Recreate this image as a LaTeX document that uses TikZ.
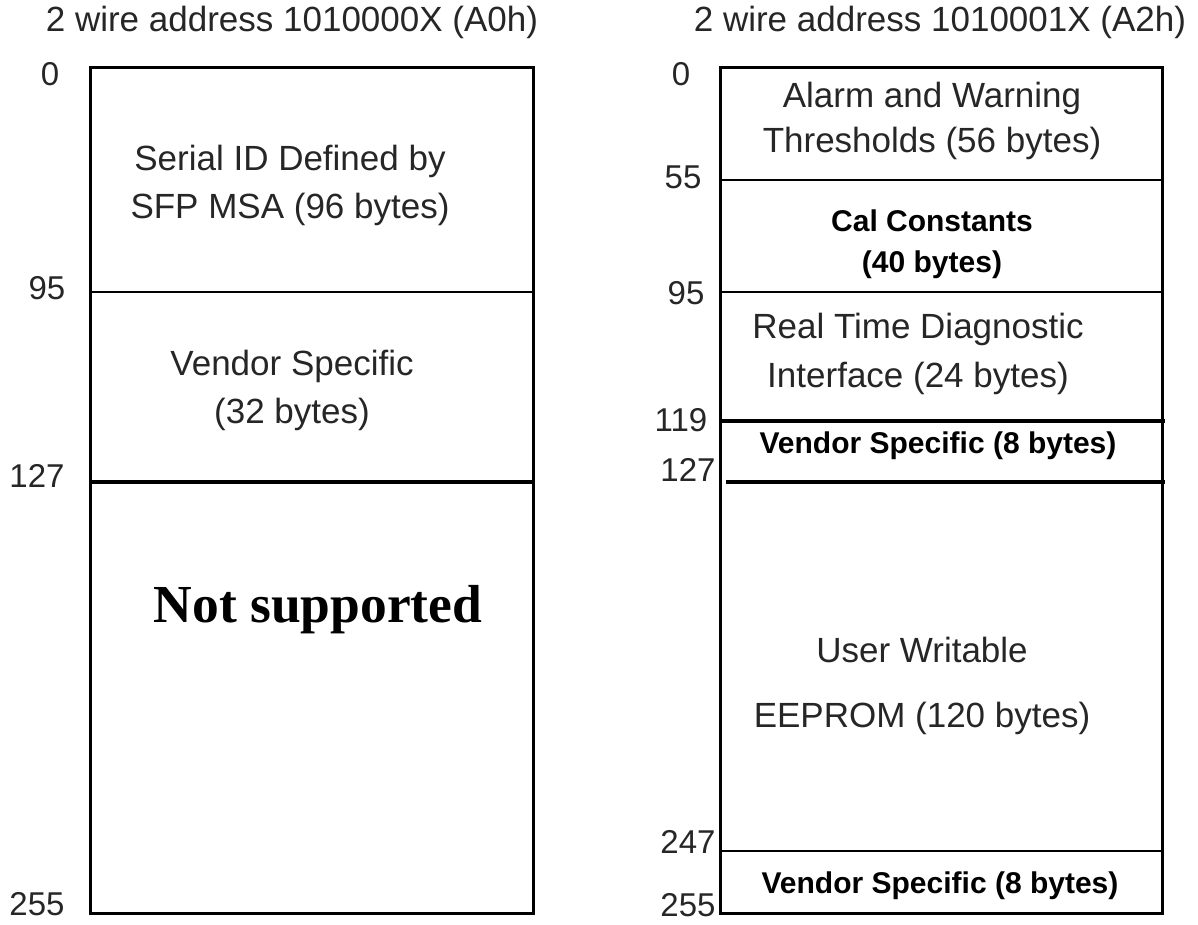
\documentclass[tikz,border=0pt]{standalone}
\usepackage{fontspec}
\setmainfont{Liberation Sans}
\newfontfamily\timesbf{Liberation Serif}
\definecolor{ink}{HTML}{262626}
\begin{document}
\begin{tikzpicture}[x=1pt,y=-1pt,
  lbl/.style={text=ink,font=\fontsize{35}{48}\selectfont,align=center,inner sep=0pt},
  blbl/.style={text=black,font=\bfseries\fontsize{30}{41}\selectfont,align=center,inner sep=0pt},
  num/.style={text=ink,font=\fontsize{33}{36}\selectfont,inner sep=0pt},
  frame/.style={line width=3pt,draw=black},
  thin/.style={line width=2pt,draw=black},
  thick/.style={line width=4pt,draw=black}]
\useasboundingbox (0,0) rectangle (1198,924);
% left box coordinates
\coordinate (LTL) at (90,67);
\coordinate (LBR) at (533,913);
\coordinate (L95a) at (90,292);
\coordinate (L95b) at (533,292);
\coordinate (L127a) at (90,482);
\coordinate (L127b) at (535,482);
% right box coordinates
\coordinate (RTL) at (720,67);
\coordinate (RBR) at (1162,913);
\coordinate (R55a) at (720,180);
\coordinate (R55b) at (1162,180);
\coordinate (R95a) at (720,292);
\coordinate (R95b) at (1162,292);
\coordinate (R119a) at (720,421);
\coordinate (R119b) at (1165,421);
\coordinate (R127a) at (726,482);
\coordinate (R127b) at (1165,482);
\coordinate (R247a) at (720,851);
\coordinate (R247b) at (1162,851);

\draw[frame] (LTL) rectangle (LBR);
\draw[thin] (L95a) -- (L95b);
\draw[thick] (L127a) -- (L127b);

\draw[frame] (RTL) rectangle (RBR);
\draw[thin] (R55a) -- (R55b);
\draw[thin] (R95a) -- (R95b);
\draw[thick] (R119a) -- (R119b);
\draw[thick] (R127a) -- (R127b);
\draw[thin] (R247a) -- (R247b);

% titles
\node[lbl] (tA) at (292,22) {2 wire address 1010000X (A0h)};
\node[lbl] (tB) at (940,22) {2 wire address 1010001X (A2h)};

% left labels
\node[lbl] (serial) at (290,185) {Serial ID Defined by\\SFP MSA (96 bytes)};
\node[lbl] (vend1) at (292,390) {Vendor Specific\\(32 bytes)};
\node[text=black,inner sep=0pt,font=\timesbf\bfseries\fontsize{53.5}{60}\selectfont] (ns) at (318,610) {Not supported};

% right labels
\node[lbl,font=\fontsize{35}{45}\selectfont] (alarm) at (932,121) {Alarm and Warning\\Thresholds (56 bytes)};
\node[blbl] (cal) at (932,244) {Cal Constants\\(40 bytes)};
\node[lbl,font=\fontsize{35}{49}\selectfont] (rtd) at (918,354) {Real Time Diagnostic\\Interface (24 bytes)};
\node[blbl] (vend2) at (938,446) {Vendor Specific (8 bytes)};
\node[lbl,font=\fontsize{35}{65}\selectfont] (user) at (922,686) {User Writable\\EEPROM (120 bytes)};
\node[blbl] (vend3) at (940,886) {Vendor Specific (8 bytes)};

% numbers left
\node[num] (n0l) at (50,74) {0};
\node[num] (n95l) at (47,288) {95};
\node[num] (n127l) at (37,476) {127};
\node[num] (n255l) at (37,904) {255};
% numbers right
\node[num] (n0r) at (681,74) {0};
\node[num] (n55r) at (683,177) {55};
\node[num] (n95r) at (686,293) {95};
\node[num] (n119r) at (681,420) {119};
\node[num] (n127r) at (688,470) {127};
\node[num] (n247r) at (688,842) {247};
\node[num] (n255r) at (688,905) {255};
\end{tikzpicture}
\end{document}
